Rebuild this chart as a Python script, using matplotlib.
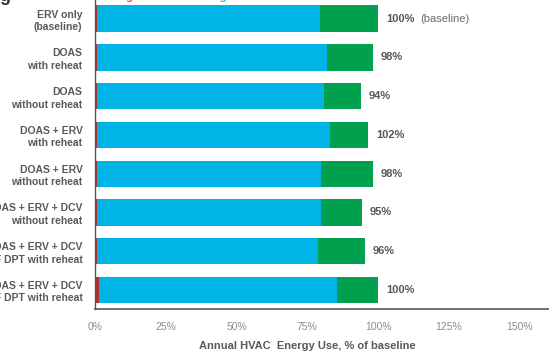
import matplotlib
matplotlib.use("Agg")
import matplotlib.pyplot as plt
import numpy as np

plt.rcParams['font.family'] = ['Liberation Sans', 'DejaVu Sans']

# rows, top to bottom
cases = ["ERV only\n(baseline)",
         "DOAS\nwith reheat",
         "DOAS\nwithout reheat",
         "DOAS + ERV\nwith reheat",
         "DOAS + ERV\nwithout reheat",
         "DOAS + ERV + DCV\nwithout reheat",
         "DOAS + ERV + DCV\n55°F DPT with reheat",
         "DOAS + ERV + DCV\n50°F DPT with reheat"]
heating = [0.7, 0.7, 0.7, 0.7, 0.7, 0.7, 0.7, 1.5]
cooling = [78.8, 81.3, 80.2, 82.3, 79.2, 79.2, 78.1, 84.0]
fans = [20.5, 16.2, 13.1, 13.5, 18.3, 14.4, 16.6, 14.5]
totals_txt = ["100%", "98%", "94%", "102%", "98%", "95%", "96%", "100%"]
xticks = [0, 25, 50, 75, 100, 125, 150]

c_heat = "#b0302a"
c_cool = "#00b5e5"
c_fans = "#00a04e"
grey = "#595959"

fig = plt.figure(figsize=(5.49, 3.54), dpi=100)
ax = fig.add_axes([95 / 549, 1 - 309 / 354, 1 - 95 / 549, 309 / 354])

y = np.arange(len(cases))
h = np.array(heating)
c = np.array(cooling)
f = np.array(fans)
ax.barh(y, h, height=0.68, color=c_heat)
ax.barh(y, c, left=h, height=0.68, color=c_cool)
ax.barh(y, f, left=h + c, height=0.68, color=c_fans)

for yi, tot, txt in zip(y, h + c + f, totals_txt):
    ax.text(tot + 2.8, yi, txt, va="center", ha="left", fontsize=8,
            fontweight="bold", color=grey)
# "(baseline)" tag on the first row, normal weight
ax.annotate("(baseline)", (h[0] + c[0] + f[0] + 2.8, 0), xytext=(34, 0),
            textcoords="offset pixels", va="center", ha="left", fontsize=8,
            color="#6a6a6a")

ax.set_ylim(7.49, -0.48)
ax.set_xlim(0, 160.4)
ax.set_yticks(y)
ax.set_yticklabels(cases, fontsize=7.5, fontweight="bold", color=grey,
                   linespacing=1.3)
ax.set_xticks(xticks)
ax.set_xticklabels([f"{v}%" for v in xticks], fontsize=7.5, color="#8c8c8c")
ax.tick_params(axis="both", length=0)
ax.tick_params(axis="y", pad=9)
ax.tick_params(axis="x", pad=9)

for s in ["top", "right"]:
    ax.spines[s].set_visible(False)
ax.spines["left"].set_color("#555555")
ax.spines["bottom"].set_color("#555555")
ax.spines["left"].set_linewidth(1.0)
ax.spines["bottom"].set_linewidth(1.2)

ax.set_xlabel("Annual HVAC  Energy Use, % of baseline", fontsize=8,
              fontweight="bold", color=grey)
ax.xaxis.set_label_coords((307 - 95) / 454, -0.105)

# legend row, cut off at the top edge of the crop
fig.text(92 / 549, 1, "Heating", color="#e8503a", fontsize=8,
         fontweight="bold", va="baseline")
fig.text(185 / 549, 1, "Cooling", color="#2fb8e0", fontsize=8,
         fontweight="bold", va="baseline")
fig.text(320 / 549, 1, "Fans", color="#35b060", fontsize=8,
         fontweight="bold", va="baseline")
fig.text(-1 / 549, 1 - 1 / 354, "g", color="#333333", fontsize=13,
         fontweight="bold", va="baseline")

fig.savefig("out.png", dpi=100)
